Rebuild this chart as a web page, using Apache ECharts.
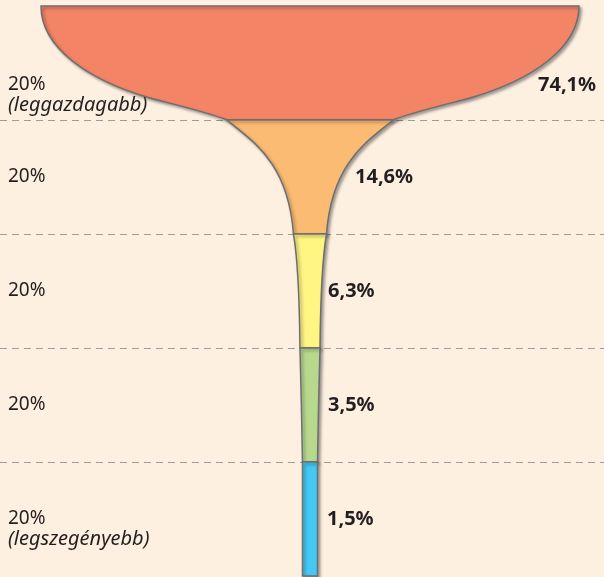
<!DOCTYPE html>
<html>
<head>
<meta charset="utf-8">
<script src="https://cdn.jsdelivr.net/npm/echarts@6/dist/echarts.min.js"></script>
<style>
    html, body { margin: 0; padding: 0; background: #fdf0e1; }
</style>
</head>
<body>
    <div id="chart_container" style="width: 604px; height: 577px;"></div>

    <script type="text/javascript">
        // income quintiles, richest on top
        var groups = ['20%', '20%', '20%', '20%', '20%'];
        var groupNotes = ['(leggazdagabb)', '', '', '', '(legszegényebb)'];
        var shares = [74.1, 14.6, 6.3, 3.5, 1.5];
        // half width of the glass at each quintile border
        var rimHalfWidths = [269, 83, 16.5, 10, 7.5, 7.5];

        var colors = ['#f48466', '#fbbb72', '#fff583', '#b8d88e', '#45c8f4'];
        var textColor = '#231f20';

        // outline of one side, as cubic segments in band-relative (u, v) terms
        // u: 0 = top half width, 1 = bottom half width; v: 0 = top, 1 = bottom
        var sideCurves = [
            [[0, 0.368, 0.253, 0.649, 0.586, 0.807], [0.66, 0.842, 0.898, 0.93, 1, 1]],
            [[0.346, 0.175, 0.917, 0.35, 1, 1]],
            [[0.69, 0.23, 0.92, 0.58, 1, 1]],
            [[0.4, 0.33, 0.75, 0.67, 1, 1]],
            [[0.33, 0.33, 0.67, 0.67, 1, 1]]
        ];
        // x offset of share labels from the centre line, px
        var labelOffsets = [228, 45, 18, 18, 17];

        function fmt(v) {
            return v.toFixed(1).replace('.', ',') + '%';
        }

        function renderBand(params, api) {
            var i = api.value(0);
            var top = rimHalfWidths[i];
            var bottom = rimHalfWidths[i + 1];

            function pt(u, v, side) {
                var hw = top + (bottom - top) * u;
                return api.coord([side * hw, i + v]);
            }

            var segs = sideCurves[i];
            var p0 = pt(0, 0, -1);
            var d = 'M' + p0[0] + ' ' + p0[1];
            // left side, going down
            segs.forEach(function (s) {
                var a = pt(s[0], s[1], -1), b = pt(s[2], s[3], -1), c = pt(s[4], s[5], -1);
                d += ' C' + a[0] + ' ' + a[1] + ' ' + b[0] + ' ' + b[1] + ' ' + c[0] + ' ' + c[1];
            });
            var br = pt(1, 1, 1);
            d += ' L' + br[0] + ' ' + br[1];
            // right side, going up
            for (var k = segs.length - 1; k >= 0; k--) {
                var s = segs[k];
                var start = k > 0 ? segs[k - 1] : [0, 0, 0, 0, 0, 0];
                var a = pt(s[2], s[3], 1), b = pt(s[0], s[1], 1), c = pt(start[4], start[5], 1);
                d += ' C' + a[0] + ' ' + a[1] + ' ' + b[0] + ' ' + b[1] + ' ' + c[0] + ' ' + c[1];
            }
            d += ' Z';

            var centre = api.coord([0, i + 0.5]);
            var labelY = i === 0 ? centre[1] + 22 : centre[1];

            var children = [{
                type: 'path',
                shape: { pathData: d },
                style: {
                    fill: colors[i],
                    stroke: '#6d6e71',
                    lineWidth: 1.5,
                    shadowBlur: 3,
                    shadowOffsetX: 2,
                    shadowOffsetY: 2,
                    shadowColor: 'rgba(0,0,0,0.35)'
                }
            }, {
                type: 'text',
                style: {
                    text: groups[i],
                    x: 8,
                    y: labelY,
                    fill: textColor,
                    font: '19px "Noto Sans"',
                    verticalAlign: 'middle'
                }
            }, {
                type: 'text',
                style: {
                    text: fmt(shares[i]),
                    x: centre[0] + labelOffsets[i],
                    y: labelY,
                    fill: textColor,
                    font: 'bold 20px "Noto Sans"',
                    verticalAlign: 'middle'
                }
            }];
            if (groupNotes[i]) {
                children.push({
                    type: 'text',
                    style: {
                        text: groupNotes[i],
                        x: 8,
                        y: labelY + 20,
                        fill: textColor,
                        font: 'italic 20px "Noto Sans"',
                        verticalAlign: 'middle'
                    }
                });
            }
            return { type: 'group', children: children };
        }

        var dom = document.getElementById('chart_container');
        var myChart = echarts.init(dom);
        var option = {
            backgroundColor: '#fdf0e1',
            animation: false,
            grid: { left: 0, right: 0, top: 6, bottom: 1 },
            xAxis: {
                type: 'value',
                min: -310,
                max: 294,
                show: false
            },
            yAxis: {
                type: 'value',
                inverse: true,
                min: 0,
                max: 5,
                interval: 1,
                axisLine: { show: false },
                axisTick: { show: false },
                axisLabel: { show: false },
                splitLine: {
                    show: true,
                    showMinLine: false,
                    showMaxLine: false,
                    lineStyle: { color: '#9d9d9d', type: [7, 5], width: 1 }
                }
            },
            series: [{
                type: 'custom',
                renderItem: renderBand,
                clip: false,
                data: shares.map(function (v, i) { return [i, v]; })
            }]
        };
        myChart.setOption(option);
    </script>
</body>
</html>
